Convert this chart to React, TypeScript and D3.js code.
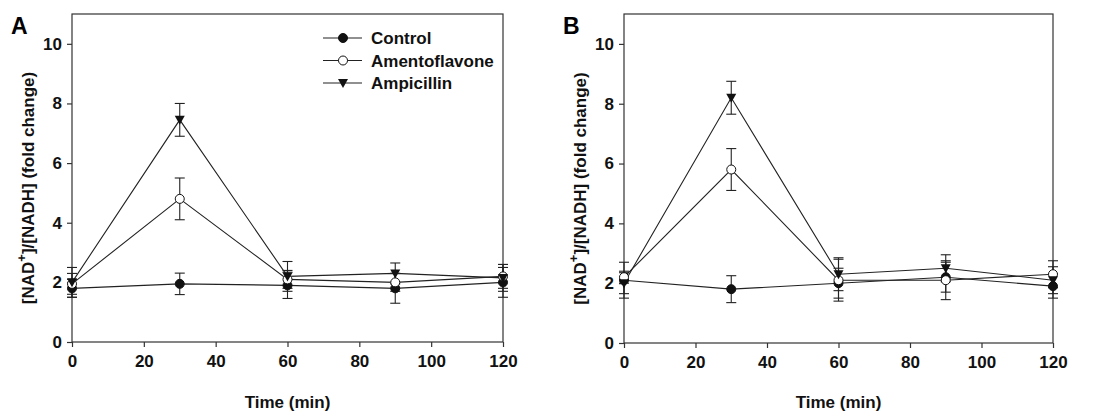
import React, { useRef, useEffect } from 'react';
import * as d3 from 'd3';

const times = [0, 30, 60, 90, 120];
const xTicks = [0, 20, 40, 60, 80, 100, 120];
const yTicks = [0, 2, 4, 6, 8, 10];
const seriesNames = ['Control', 'Amentoflavone', 'Ampicillin'];

// panel A
const controlA = [1.8, 1.95, 1.9, 1.8, 2.0];
const controlAErr = [0.3, 0.36, 0.44, 0.5, 0.5];
const amentoA = [1.95, 4.8, 2.1, 2.0, 2.2];
const amentoAErr = [0.35, 0.7, 0.3, 0.3, 0.4];
const ampiA = [2.0, 7.45, 2.2, 2.3, 2.15];
const ampiAErr = [0.5, 0.55, 0.5, 0.35, 0.45];

// panel B
const controlB = [2.1, 1.8, 2.0, 2.2, 1.9];
const controlBErr = [0.6, 0.45, 0.5, 0.5, 0.4];
const amentoB = [2.2, 5.8, 2.1, 2.1, 2.3];
const amentoBErr = [0.2, 0.7, 0.7, 0.65, 0.45];
const ampiB = [2.0, 8.2, 2.3, 2.5, 2.1];
const ampiBErr = [0.35, 0.55, 0.55, 0.45, 0.45];

const panels = [
  { letter: 'A', left: 72, right: 503, top: 14, bottom: 342, legend: true,
    series: [[controlA, controlAErr], [amentoA, amentoAErr], [ampiA, ampiAErr]] },
  { letter: 'B', left: 624, right: 1053, top: 14, bottom: 343, legend: false,
    series: [[controlB, controlBErr], [amentoB, amentoBErr], [ampiB, ampiBErr]] },
];

const ink = '#222';
const font = '"Liberation Sans", Arial, sans-serif';

function drawMarker(g, kind, cx, cy) {
  if (kind === 2) {
    g.append('path')
      .attr('d', `M${cx - 5},${cy - 4} L${cx + 5},${cy - 4} L${cx},${cy + 5} Z`)
      .attr('fill', '#111');
  } else {
    g.append('circle')
      .attr('cx', cx).attr('cy', cy).attr('r', 4.5)
      .attr('fill', kind === 1 ? '#fff' : '#111')
      .attr('stroke', '#111').attr('stroke-width', 1);
  }
}

function App() {
  const svgRef = useRef();

  useEffect(() => {
    const svg = d3.select(svgRef.current);
    svg.selectAll('*').remove();

    panels.forEach(p => {
      const x = d3.scaleLinear().domain([0, 120]).range([p.left, p.right]);
      const y = d3.scaleLinear().domain([0, 11]).range([p.bottom, p.top]);
      const g = svg.append('g');

      // frame
      g.append('rect')
        .attr('x', p.left).attr('y', p.top)
        .attr('width', p.right - p.left).attr('height', p.bottom - p.top)
        .attr('fill', 'none').attr('stroke', '#333').attr('stroke-width', 1.2);

      g.append('g')
        .attr('transform', `translate(0,${p.bottom})`)
        .call(d3.axisBottom(x).tickValues(xTicks).tickSize(5).tickSizeOuter(0).tickPadding(8))
        .call(a => a.select('.domain').remove())
        .call(a => a.selectAll('line').attr('stroke', '#333').attr('stroke-width', 1.2))
        .call(a => a.selectAll('text').attr('font-family', font).attr('font-size', 17)
          .attr('font-weight', 'bold').attr('fill', '#111'));

      g.append('g')
        .attr('transform', `translate(${p.left},0)`)
        .call(d3.axisLeft(y).tickValues(yTicks).tickSize(5).tickSizeOuter(0).tickPadding(5))
        .call(a => a.select('.domain').remove())
        .call(a => a.selectAll('line').attr('stroke', '#333').attr('stroke-width', 1.2))
        .call(a => a.selectAll('text').attr('font-family', font).attr('font-size', 17)
          .attr('font-weight', 'bold').attr('fill', '#111'));

      // axis titles
      g.append('text')
        .attr('x', (p.left + p.right) / 2).attr('y', 408)
        .attr('text-anchor', 'middle')
        .attr('font-family', font).attr('font-size', 17).attr('font-weight', 'bold').attr('fill', '#111')
        .text('Time (min)');

      const yt = g.append('text')
        .attr('transform', `translate(${p.left - 38},${(p.top + p.bottom) / 2 + 10}) rotate(-90)`)
        .attr('text-anchor', 'middle')
        .attr('font-family', font).attr('font-size', 17).attr('font-weight', 'bold').attr('fill', '#111');
      yt.append('tspan').text('[NAD');
      yt.append('tspan').attr('dy', -8).attr('font-size', 13).text('+');
      yt.append('tspan').attr('dy', 8).text(']/[NADH] (fold change)');

      g.append('text')
        .attr('x', p.left - 61).attr('y', 34)
        .attr('font-family', font).attr('font-size', 23).attr('font-weight', 'bold').attr('fill', '#000')
        .text(p.letter);

      const line = d3.line().x((d, i) => x(times[i])).y(d => y(d));

      p.series.forEach(([vals]) => {
        g.append('path').attr('d', line(vals))
          .attr('fill', 'none').attr('stroke', ink).attr('stroke-width', 1.1);
      });

      p.series.forEach(([vals, errs]) => {
        vals.forEach((v, i) => {
          const cx = x(times[i]);
          const e = g.append('g').attr('stroke', ink).attr('stroke-width', 1.1);
          e.append('line').attr('x1', cx).attr('x2', cx).attr('y1', y(v - errs[i])).attr('y2', y(v + errs[i]));
          [v - errs[i], v + errs[i]].forEach(t => {
            e.append('line').attr('x1', cx - 5).attr('x2', cx + 5).attr('y1', y(t)).attr('y2', y(t));
          });
        });
      });

      p.series.forEach(([vals], k) => {
        vals.forEach((v, i) => drawMarker(g, k, x(times[i]), y(v)));
      });

      if (p.legend) {
        seriesNames.forEach((name, k) => {
          const ly = 38 + k * 22.5;
          g.append('line').attr('x1', 323).attr('x2', 362).attr('y1', ly).attr('y2', ly)
            .attr('stroke', ink).attr('stroke-width', 1.1);
          drawMarker(g, k, 343, ly);
          g.append('text').attr('x', 371).attr('y', ly + 6)
            .attr('font-family', font).attr('font-size', 17).attr('font-weight', 'bold').attr('fill', '#111')
            .text(name);
        });
      }
    });
  }, []);

  return (
    <div style={{ position: 'absolute', left: 0, top: 0 }}>
      <svg ref={svgRef} width={1103} height={413} style={{ display: 'block', background: '#fff' }}></svg>
    </div>
  );
}

export default App;
